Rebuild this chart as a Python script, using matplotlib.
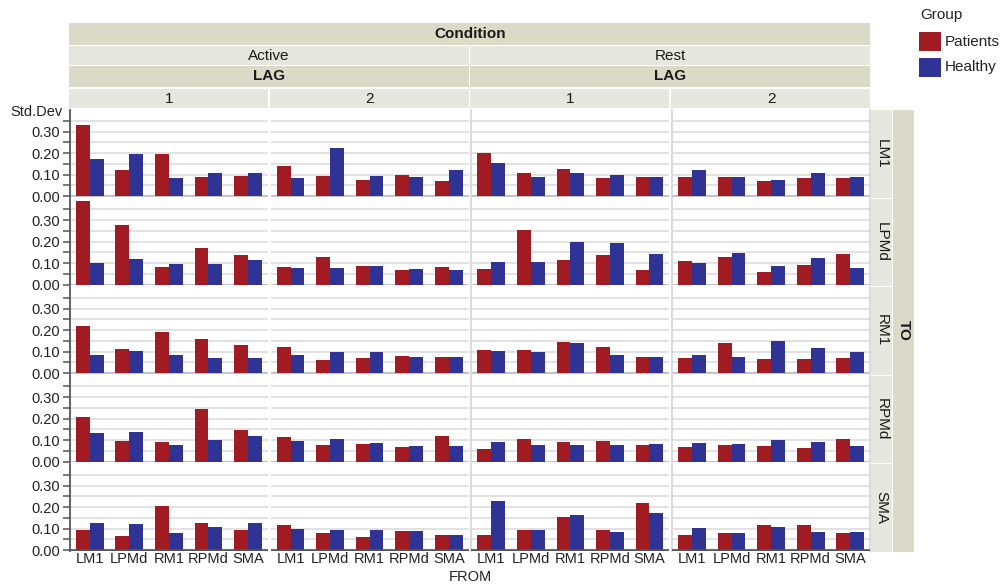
import numpy as np
import matplotlib
matplotlib.use("Agg")
import matplotlib.pyplot as plt
from matplotlib.patches import Rectangle

plt.rcParams['font.family'] = ['Liberation Sans', 'DejaVu Sans']

# categories
regions = ["LM1", "LPMd", "RM1", "RPMd", "SMA"]   # FROM (x) and TO (rows)
conditions = ["Active", "Rest"]
lags = ["1", "2"]
groups = ["Patients", "Healthy"]

# Std.Dev values, rows = TO, columns = FROM
active_lag1_patients = [[0.331, 0.123, 0.197, 0.091, 0.095],
                        [0.388, 0.277, 0.083, 0.171, 0.138],
                        [0.218, 0.112, 0.191, 0.158, 0.131],
                        [0.208, 0.097, 0.092, 0.245, 0.148],
                        [0.092, 0.065, 0.203, 0.125, 0.092]]
active_lag1_healthy = [[0.174, 0.197, 0.082, 0.105, 0.105],
                       [0.102, 0.120, 0.097, 0.097, 0.115],
                       [0.085, 0.103, 0.085, 0.071, 0.071],
                       [0.134, 0.138, 0.078, 0.102, 0.120],
                       [0.125, 0.120, 0.078, 0.106, 0.125]]
active_lag2_patients = [[0.142, 0.095, 0.077, 0.100, 0.072],
                        [0.083, 0.129, 0.088, 0.069, 0.083],
                        [0.122, 0.062, 0.071, 0.080, 0.075],
                        [0.115, 0.078, 0.083, 0.069, 0.120],
                        [0.115, 0.078, 0.060, 0.088, 0.069]]
active_lag2_healthy = [[0.082, 0.225, 0.095, 0.091, 0.123],
                       [0.078, 0.078, 0.088, 0.074, 0.069],
                       [0.085, 0.098, 0.098, 0.075, 0.075],
                       [0.097, 0.106, 0.088, 0.074, 0.074],
                       [0.097, 0.092, 0.092, 0.088, 0.069]]
rest_lag1_patients = [[0.202, 0.105, 0.128, 0.086, 0.091],
                      [0.074, 0.254, 0.115, 0.138, 0.069],
                      [0.108, 0.108, 0.145, 0.122, 0.075],
                      [0.060, 0.106, 0.092, 0.097, 0.078],
                      [0.069, 0.092, 0.152, 0.092, 0.217]]
rest_lag1_healthy = [[0.155, 0.091, 0.105, 0.100, 0.091],
                     [0.106, 0.106, 0.198, 0.194, 0.143],
                     [0.103, 0.098, 0.140, 0.085, 0.075],
                     [0.092, 0.078, 0.078, 0.078, 0.083],
                     [0.226, 0.092, 0.162, 0.083, 0.171]]
rest_lag2_patients = [[0.091, 0.091, 0.068, 0.086, 0.086],
                      [0.111, 0.129, 0.060, 0.092, 0.143],
                      [0.071, 0.140, 0.066, 0.066, 0.071],
                      [0.069, 0.078, 0.074, 0.065, 0.106],
                      [0.069, 0.078, 0.115, 0.115, 0.078]]
rest_lag2_healthy = [[0.123, 0.091, 0.077, 0.109, 0.091],
                     [0.102, 0.148, 0.088, 0.125, 0.078],
                     [0.085, 0.075, 0.149, 0.117, 0.098],
                     [0.088, 0.083, 0.102, 0.092, 0.074],
                     [0.102, 0.078, 0.106, 0.083, 0.083]]

# panel columns in order: Active/1, Active/2, Rest/1, Rest/2
panels = [(active_lag1_patients, active_lag1_healthy),
          (active_lag2_patients, active_lag2_healthy),
          (rest_lag1_patients, rest_lag1_healthy),
          (rest_lag2_patients, rest_lag2_healthy)]

RED = "#a01c22"
BLUE = "#2e3394"
DARK_STRIP = "#dbd9c7"
LIGHT_STRIP = "#e6e7de"
GRID = "#dadada"
AXIS = "#555555"

W, H = 1000, 585
fig, axes = plt.subplots(5, 4, figsize=(10, 5.85), dpi=100,
                         gridspec_kw=dict(left=0.07, right=0.87,
                                          top=1 - 110 / H, bottom=1 - 551 / H,
                                          wspace=0.015, hspace=0.018))

x = np.arange(len(regions))
bw = 0.35
for r in range(5):
    for c in range(4):
        ax = axes[r, c]
        pat, hea = panels[c]
        ax.bar(x - bw / 2, pat[r], bw, color=RED, zorder=3)
        ax.bar(x + bw / 2, hea[r], bw, color=BLUE, zorder=3)
        ax.set_xlim(-0.5, 4.5)
        ax.set_ylim(-0.004, 0.40)
        for g in np.arange(0.05, 0.40, 0.05):
            ax.axhline(g, color=GRID, lw=1.1, zorder=1)
        ax.axhline(0, color="#c4c4c4", lw=1.6, zorder=2)
        for s in ax.spines.values():
            s.set_visible(False)
        ax.set_xticks([])
        ax.set_yticks([])
        if c in (2, 3):
            ax.spines['left'].set_visible(True)
            ax.spines['left'].set_color("#d4d4d4")
            ax.spines['left'].set_linewidth(1.2)
        if c == 3:
            ax.spines['right'].set_visible(True)
            ax.spines['right'].set_color("#d4d4d4")
            ax.spines['right'].set_linewidth(1.2)
        if c == 0:
            ax.spines['left'].set_visible(True)
            ax.spines['left'].set_color(AXIS)
            ax.spines['left'].set_linewidth(1.3)
            ax.set_yticks([0, 0.1, 0.2, 0.3])
            ax.set_yticklabels(["0.00", "0.10", "0.20", "0.30"], fontsize=10.5,
                               color="#222222")
            ax.set_yticks([0.05, 0.15, 0.25, 0.35], minor=True)
            ax.tick_params(axis='y', which='both', length=5, width=1.1,
                           color=AXIS, pad=2)
        if r == 4:
            ax.axhline(0, color=AXIS, lw=1.8, zorder=4)
            ax.set_xticks(x)
            ax.set_xticklabels(regions, fontsize=10.5, color="#222222")
            ax.tick_params(axis='x', length=0, pad=1)


def fig_rect(x0, y0, x1, y1, color):
    fig.add_artist(Rectangle((x0 / W, 1 - y1 / H), (x1 - x0) / W, (y1 - y0) / H,
                             transform=fig.transFigure, color=color, lw=0))


def fig_text(xp, yp, s, **kw):
    fig.text(xp / W, 1 - yp / H, s, ha='center', va='center', **kw)


# column edges in pixels, from the axes themselves
col_edges = []
for c in range(4):
    p = axes[0, c].get_position()
    col_edges.append((p.x0 * W, p.x1 * W))
row_edges = []
for r in range(5):
    p = axes[r, 0].get_position()
    row_edges.append(((1 - p.y1) * H, (1 - p.y0) * H))

left_px, right_px = col_edges[0][0], col_edges[3][1]

# top strips
fig_rect(left_px - 1, 23, right_px, 45, DARK_STRIP)
fig_text((left_px + right_px) / 2, 34, "Condition", fontsize=11, weight='bold',
         color="#1a1a1a")
for k, cond in enumerate(conditions):
    x0 = col_edges[2 * k][0] - 1
    x1 = col_edges[2 * k + 1][1]
    fig_rect(x0, 46, x1, 65, LIGHT_STRIP)
    fig_text((x0 + x1) / 2, 55.5, cond, fontsize=11, color="#1a1a1a")
    fig_rect(x0, 66, x1, 87, DARK_STRIP)
    fig_text((x0 + x1) / 2, 76.5, "LAG", fontsize=11, weight='bold', color="#1a1a1a")
for c in range(4):
    x0, x1 = col_edges[c]
    fig_rect(x0 - 1, 89, x1, 108, LIGHT_STRIP)
    fig_text((x0 + x1) / 2, 98.5, lags[c % 2], fontsize=11, color="#1a1a1a")

# right strips
for r in range(5):
    y0, y1 = row_edges[r]
    fig_rect(871, y0, 892, y1 + 1, LIGHT_STRIP)
    fig_text(881.5, (y0 + y1) / 2, regions[r], fontsize=11, rotation=-90,
             color="#1a1a1a")
fig_rect(893, row_edges[0][0], 914, row_edges[4][1] + 1, DARK_STRIP)
fig_text(903.5, (row_edges[0][0] + row_edges[4][1]) / 2, "TO", fontsize=11,
         weight='bold', rotation=-90, color="#1a1a1a")

# axis titles
fig.text(10 / W, 1 - 112 / H, "Std.Dev", ha='left', va='center', fontsize=10.5,
         color="#222222")
fig_text((left_px + right_px) / 2, 577, "FROM", fontsize=10.5, color="#222222")

# legend
fig.text(920 / W, 1 - 15 / H, "Group", ha='left', va='center', fontsize=11,
         color="#222222")
for k, (g, col) in enumerate(zip(groups, [RED, BLUE])):
    y0 = 32 + k * 26
    fig_rect(919, y0, 941, y0 + 19, col)
    fig.text(945 / W, 1 - (y0 + 9.5) / H, g, ha='left', va='center',
             fontsize=11, color="#222222")

fig.savefig("out.png", dpi=100)
